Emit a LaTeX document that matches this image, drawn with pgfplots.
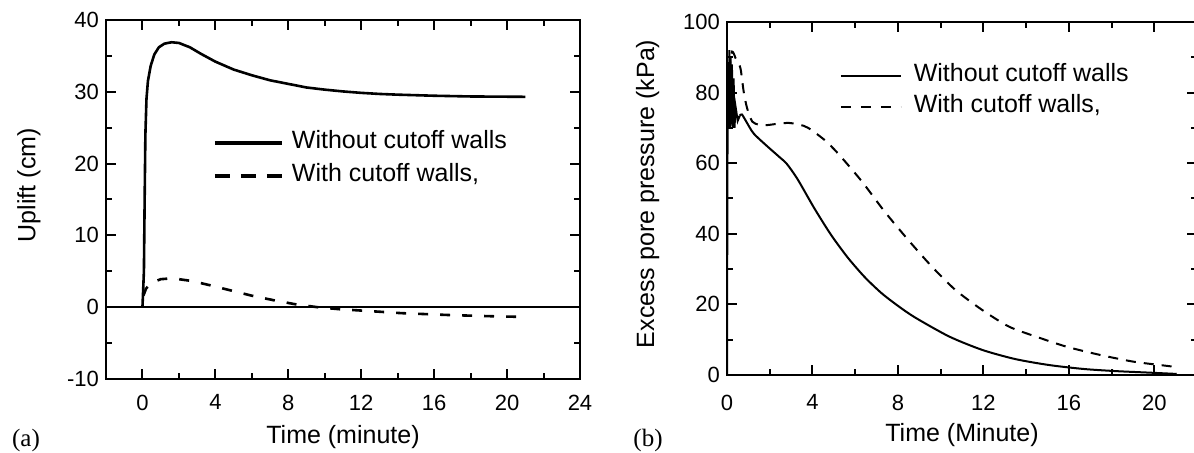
\documentclass[border=0pt]{standalone}
\usepackage{fontspec}
\setmainfont{Liberation Sans}
\newfontfamily\serif{Liberation Serif}
\usepackage{pgfplots}
\pgfplotsset{compat=1.18}
\pgfplotsset{
  myaxis/.style={
    scale only axis,
    axis line style={line width=1.3pt},
    every tick/.style={black, line width=1pt},
    major tick length=5pt, minor tick length=3pt,
    tick align=inside, tick pos=both,
    tick label style={font=\fontsize{11}{13}\selectfont},
    label style={font=\fontsize{12.5}{15}\selectfont},
    /pgf/number format/assume math mode=true,
    legend cell align=left,
  }
}
\begin{document}
\begin{tikzpicture}
\useasboundingbox (0,0) rectangle (597pt,226.5pt);
% ---------- (a) ----------
\begin{axis}[myaxis, at={(53pt,37pt)}, anchor=south west,
  width=237pt, height=179.5pt,
  xmin=-2, xmax=24, ymin=-10, ymax=40,
  xtick={0,4,...,24}, minor xtick={-2,2,...,22},
  ytick={-10,0,...,40}, minor ytick={-5,5,...,35},
  xticklabel style={yshift=-4.4pt},
  xlabel={Time (minute)}, ylabel={Uplift (cm)},
  xlabel style={at={(axis description cs:0.5,-0.1616)}, anchor=center},
  ylabel style={at={(axis description cs:-0.1624,0.54)}, anchor=center},
  legend style={draw=none, fill=none, at={(rel axis cs:0.2257,0.691)}, anchor=north west,
    inner sep=0pt, outer sep=0pt, row sep=4.5pt,
    font=\fontsize{12.5}{15}\selectfont,
    nodes={inner sep=0pt, text height=9pt, text depth=3pt}},
  legend image code/.code={\draw[#1] (0pt,0pt) -- (33.5pt,0pt); \path (37.5pt,0pt);},
]
\addplot[line width=1pt, forget plot] coordinates {(-2,0) (24,0)};
\addplot[line width=1.3pt, forget plot] coordinates {
(0,0) (0.08,5) (0.12,15) (0.16,24) (0.22,29) (0.3,31.5) (0.45,33.6) (0.65,35.2)
(0.9,36.2) (1.2,36.7) (1.6,36.9) (2.0,36.8) (2.6,36.2) (3.2,35.3) (4,34.2) (5,33.1)
(6,32.3) (7,31.6) (8,31.1) (9,30.6) (10,30.3) (11,30.05) (12,29.85) (13,29.7)
(14,29.6) (16,29.45) (18,29.35) (21,29.3)};
\addplot[line width=1.3pt, dash pattern=on 5pt off 6pt, forget plot] coordinates {
(0.05,1.6) (0.2,2.6) (0.5,3.4) (1.0,3.9) (1.5,4.0) (2.0,3.9) (2.7,3.65) (3.8,3.0)
(4.9,2.3) (6.0,1.6) (7.2,0.97) (8.4,0.4) (9.6,0) (10.8,-0.28) (12.2,-0.5)
(14.2,-0.83) (16.9,-1.1) (19.7,-1.3) (21,-1.35)};
\addlegendimage{line width=2pt}
\addlegendentry{Without cutoff walls}
\addlegendimage{line width=2pt, dash pattern=on 7.5pt off 5.5pt}
\addlegendentry{With cutoff walls,}
\end{axis}
% ---------- (b) ----------
\begin{axis}[myaxis, at={(363.5pt,39pt)}, anchor=south west,
  width=235pt, height=176.5pt,
  xmin=0, xmax=22, ymin=0, ymax=100,
  xtick={0,4,...,20}, minor xtick={2,6,...,22},
  ytick={0,20,...,100}, minor ytick={10,30,...,90},
  xticklabel style={yshift=-6.4pt},
  xlabel={Time (Minute)}, ylabel={Excess pore pressure (kPa)},
  xlabel style={at={(axis description cs:0.5,-0.170)}, anchor=center},
  ylabel style={at={(axis description cs:-0.169,0.513)}, anchor=center},
  legend style={draw=none, fill=none, at={(rel axis cs:0.240,0.881)}, anchor=north west,
    inner sep=0pt, outer sep=0pt, row sep=3.5pt,
    font=\fontsize{12.5}{15}\selectfont,
    nodes={inner sep=0pt, text height=9pt, text depth=3pt}},
  legend image code/.code={\draw[#1] (0pt,0pt) -- (30pt,0pt); \path (36pt,0pt);},
]
\addplot[line width=1pt, forget plot] coordinates {
(0,0) (0.02,60) (0.05,85) (0.08,72) (0.11,92) (0.14,70) (0.17,90) (0.2,71) (0.23,88)
(0.27,70) (0.31,84) (0.35,70) (0.4,76) (0.5,72) (0.6,73.5)};
\addplot[line width=1pt, smooth, tension=0.45, forget plot] coordinates {
(0.6,73.5) (0.7,73.8) (0.9,71.8) (1.25,68.4)
(1.9,64.7) (2.5,61.5) (2.8,59.8) (3.3,55.5) (4.09,47.2) (4.87,39.7) (5.66,33.2)
(6.45,27.7) (7.23,23.2) (8.0,19.6) (8.8,16.3) (10.4,10.9) (11.95,7.1) (13.5,4.5)
(15.1,2.8) (16.7,1.7) (18.2,1.1) (19.8,0.66) (21.05,0.3)};
\addplot[line width=1pt, smooth, tension=0.45, dash pattern=on 5pt off 4pt, forget plot] coordinates {
(0.1,86) (0.24,91.6) (0.45,89) (0.63,86.9) (0.78,80.3) (0.94,75.6) (1.18,71.8)
(1.5,70.9) (1.89,70.8) (2.4,71.2) (2.9,71.4) (3.4,70.9) (3.8,70) (4.56,66.6)
(5.19,62.8) (6.29,55) (7.39,46.2) (8.49,38.2) (9.59,30.7) (10.69,24.1) (11.95,18.4)
(13.2,13.7) (14.45,10.9) (15.9,8.0) (17.45,5.7) (19.0,3.8) (20.3,2.8) (21.1,2.2)};
\addlegendimage{line width=1pt}
\addlegendentry{Without cutoff walls}
\addlegendimage{line width=1pt, dash pattern=on 5pt off 5pt}
\addlegendentry{With cutoff walls,}
\end{axis}
\node[font=\serif\fontsize{12.5}{15}\selectfont] at (13pt,6.5pt) {(a)};
\node[font=\serif\fontsize{12.5}{15}\selectfont] at (324pt,6.5pt) {(b)};
\end{tikzpicture}
\end{document}
